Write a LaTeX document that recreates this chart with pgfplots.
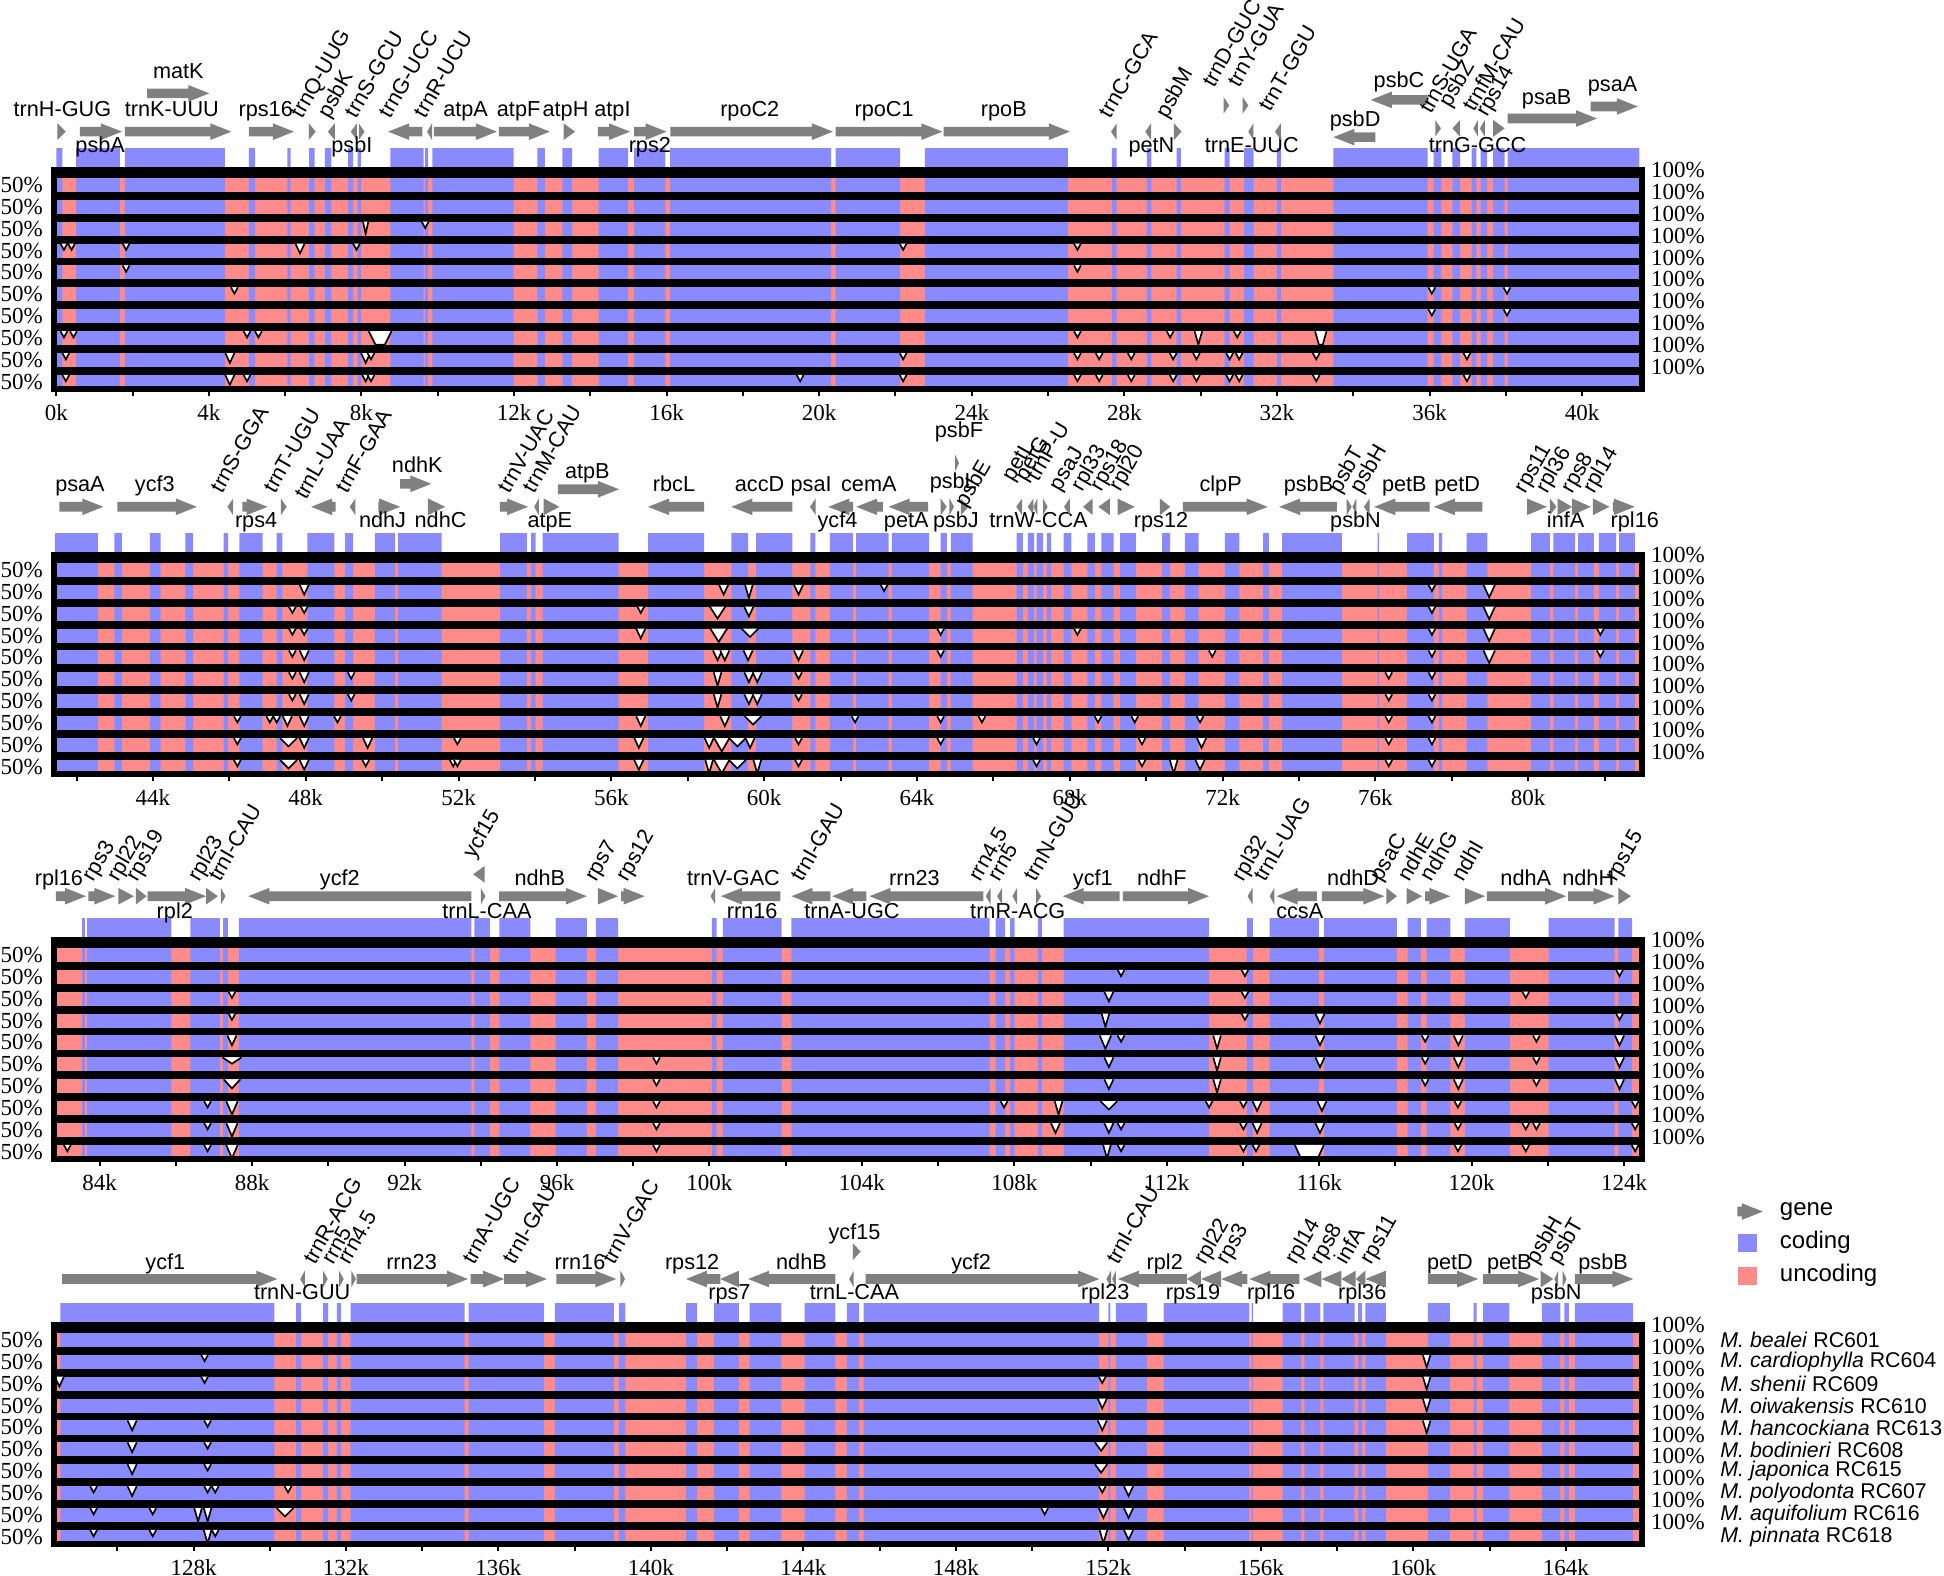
\documentclass[border=0pt]{standalone}
\usepackage{fontspec}
\setmainfont{Liberation Serif}
\setsansfont{Liberation Sans}
\usepackage{pgfplots}
\usepackage{pgfplotstable}
\pgfplotsset{compat=1.18}
\definecolor{coding}{RGB}{138,138,255}
\definecolor{uncoding}{RGB}{255,138,138}
\definecolor{genegray}{RGB}{128,128,128}

\pgfplotstableread{
x c
-0.06 0
0 1
0.16 0
0.52 1
1.67 0
1.80 1
4.42 0
5.05 1
5.21 0
6.06 1
6.14 0
6.63 1
6.77 0
7.04 1
7.21 0
7.65 1
7.78 0
7.90 1
7.99 0
8.76 1
9.63 0
9.67 1
9.75 0
9.86 1
11.99 0
12.61 1
12.81 0
13.27 1
13.52 0
14.22 1
14.99 0
15.15 1
15.97 0
16.09 1
20.31 0
20.43 1
22.12 0
22.77 1
26.52 0
27.67 1
27.80 0
28.59 1
28.71 0
29.37 1
29.48 0
30.63 1
30.76 0
31.14 1
31.39 0
32.00 1
32.11 0
33.48 1
35.95 0
36.11 1
36.31 0
36.60 1
36.80 0
37.10 1
37.23 0
37.34 1
37.51 0
37.67 1
37.97 0
38.05 1
41.50 0
41.57 0
}\tabA

\pgfplotstableread{
x c
41.41 0
41.43 1
42.56 0
42.99 1
43.19 0
43.92 1
44.20 0
44.85 1
45.05 0
45.85 1
45.97 0
46.26 1
46.87 0
47.24 1
47.39 0
48.04 1
48.75 0
49.03 1
49.24 0
49.81 1
50.34 0
50.42 1
51.56 0
53.09 1
53.79 0
53.90 1
54.02 0
54.20 1
56.19 0
56.96 1
58.43 0
59.14 1
59.58 0
59.79 1
60.74 0
61.21 1
61.34 0
61.72 1
62.33 0
62.41 1
63.26 0
63.34 1
64.32 0
64.62 1
64.78 0
64.89 1
65.46 0
66.61 1
66.77 0
66.90 1
67.07 0
67.13 1
67.30 0
67.40 1
67.51 0
67.84 1
68.04 0
68.46 1
68.66 0
68.83 1
69.15 0
69.32 1
69.73 0
70.42 1
70.63 0
71.01 1
71.37 0
72.06 1
72.44 0
73.06 1
73.21 0
73.56 1
75.12 0
76.06 1
76.10 0
76.83 1
77.53 0
77.66 1
77.75 0
78.39 1
78.93 0
80.08 1
80.57 0
80.66 1
81.23 0
81.31 1
81.72 0
81.85 1
82.30 0
82.38 1
82.79 0
82.98 0
}\tabB

\pgfplotstableread{
x c
82.80 0
83.54 1
83.61 0
83.67 1
85.88 0
86.38 1
87.15 0
87.24 1
87.36 0
87.65 1
93.75 0
93.83 1
94.24 0
94.49 1
95.30 0
95.96 1
96.78 0
97.02 1
97.60 0
100.06 1
100.19 0
100.35 1
101.89 0
102.15 1
107.35 0
107.51 1
107.76 0
107.89 1
108.01 0
108.62 1
108.72 0
109.29 1
113.11 0
114.10 1
114.26 0
114.70 1
115.99 0
116.12 1
118.04 0
118.32 1
118.67 0
118.82 1
119.44 0
119.82 1
121.00 0
122.02 1
123.75 0
123.85 1
124.21 0
124.47 0
}\tabC

\pgfplotstableread{
x c
124.34 0
124.51 1
130.12 0
130.69 1
130.82 0
131.40 1
131.53 0
131.76 1
131.87 0
132.12 1
135.11 0
135.22 1
137.19 0
137.48 1
139.03 0
139.16 1
139.33 0
140.92 1
141.21 0
141.65 1
142.31 0
142.59 1
143.42 0
144.03 1
144.84 0
145.14 1
145.46 0
145.58 1
151.76 0
152.00 1
152.05 0
152.20 1
153.02 0
153.45 1
155.70 0
155.76 1
155.80 0
156.57 1
157.06 0
157.14 1
157.56 0
157.64 1
158.46 0
158.55 1
158.66 0
158.74 1
159.28 0
160.38 1
160.96 0
161.58 1
161.66 0
161.83 1
162.52 0
163.37 1
163.86 0
163.96 1
164.08 0
164.24 1
165.77 0
166.00 0
}\tabD

\tikzset{
 glab/.style={font=\sffamily\fontsize{6.5}{7}\selectfont, inner sep=0pt},
 rlab/.style={font=\fontsize{6.9}{7}\selectfont, inner sep=0pt, anchor=west},
 genefill/.style={fill=genegray, draw=none},
 dipst/.style={fill=white, draw=black, line width=0.5pt},
}
\pgfplotsset{
 vista/.style={
  scale only axis, width=476.4pt, height=65.7pt,
  anchor=south west,
  ymin=0, ymax=10, clip=false, axis on top,
  axis line style={line width=1.8pt},
  ytick={0.32,1.32,2.32,3.32,4.32,5.32,6.32,7.32,8.32,9.32},
  yticklabels={50\%,50\%,50\%,50\%,50\%,50\%,50\%,50\%,50\%,50\%},
  ytick pos=left,
  ytick style={draw=none},
  yticklabel style={font=\fontsize{6.9}{7}\selectfont, inner sep=1pt},
  xtick pos=left, tick align=outside,
  major tick length=2.2pt, minor tick length=2.2pt,
  xtick style={line width=0.6pt, black},
  /pgf/number format/assume math mode=true,
  xticklabel={\pgfmathprintnumber{\tick}k},
  xticklabel style={font=\fontsize{6.9}{7}\selectfont, yshift=1pt},
 },
}

% genes
\newcommand{\gR}[3]{%
 \pgfmathsetmacro\gHL{min(0.55,#2-#1)}%
 \pgfmathsetmacro\gM{#2-\gHL}%
 \pgfmathsetmacro\yS{#3-0.22}\pgfmathsetmacro\yT{#3+0.22}%
 \pgfmathsetmacro\yH{#3-0.38}\pgfmathsetmacro\yK{#3+0.38}%
 \addplot[genefill] coordinates {(#1,\yS) (\gM,\yS) (\gM,\yH) (#2,#3) (\gM,\yK) (\gM,\yT) (#1,\yT)};}
\newcommand{\gL}[3]{%
 \pgfmathsetmacro\gHL{min(0.55,#2-#1)}%
 \pgfmathsetmacro\gM{#1+\gHL}%
 \pgfmathsetmacro\yS{#3-0.22}\pgfmathsetmacro\yT{#3+0.22}%
 \pgfmathsetmacro\yH{#3-0.38}\pgfmathsetmacro\yK{#3+0.38}%
 \addplot[genefill] coordinates {(#2,\yS) (\gM,\yS) (\gM,\yH) (#1,#3) (\gM,\yK) (\gM,\yT) (#2,\yT)};}
% labels
\newcommand{\gla}[2]{\node[glab,anchor=base] at (axis cs:#1,\La) {#2};}
\newcommand{\glb}[2]{\node[glab,anchor=base] at (axis cs:#1,\Lb) {#2};}
\newcommand{\glr}[2]{\node[glab,anchor=base west,rotate=60] at (axis cs:#1,\Lr) {#2};}
\newcommand{\glxy}[3]{\node[glab,anchor=base] at (axis cs:#1,#2) {#3};}
\newcommand{\glrxy}[3]{\node[glab,anchor=base west,rotate=60] at (axis cs:#1,#2) {#3};}
% dips
\newcommand{\dip}[4]{%
 \pgfmathsetmacro\dipT{10.64-#2}%
 \pgfmathsetmacro\dipB{10.64-#2-0.64*#4}%
 \pgfmathsetmacro\dipL{#1-#3}\pgfmathsetmacro\dipR{#1+#3}%
 \addplot[dipst] coordinates {(\dipL,\dipT) (#1,\dipB) (\dipR,\dipT)};}
\newcommand{\dtz}[4]{%
 \pgfmathsetmacro\dipT{10.64-#2}\pgfmathsetmacro\dipB{10.02-#2}%
 \pgfmathsetmacro\dipL{#1-#3}\pgfmathsetmacro\dipR{#1+#3}%
 \pgfmathsetmacro\dipl{#1-#4}\pgfmathsetmacro\dipr{#1+#4}%
 \addplot[dipst] coordinates {(\dipL,\dipT) (\dipl,\dipB) (\dipr,\dipB) (\dipR,\dipT)};}
\newcommand{\dS}[2]{\dip{#1}{#2}{0.09}{0.45}}
\newcommand{\dM}[2]{\dip{#1}{#2}{0.12}{0.7}}
\newcommand{\dD}[2]{\dip{#1}{#2}{0.1}{0.95}}
\newcommand{\dW}[2]{\dip{#1}{#2}{0.22}{0.6}}
% background
\newcommand{\tracks}[1]{%
 \addplot[fill=uncoding,draw=none] coordinates {(\xmn,0) (\xmx,0) (\xmx,10) (\xmn,10)};
 \addplot[const plot, fill=coding, draw=none] table[x=x, y expr=\thisrow{c}*11] {#1} \closedcycle;
 \pgfplotsinvokeforeach{0,...,9}{\addplot[fill=black,draw=none] coordinates {(\xmn,##1.64) (\xmx,##1.64) (\xmx,##1.9999) (\xmn,##1.9999)};}
}
\newcommand{\rightlabels}{\pgfplotsinvokeforeach{1,...,10}{\node[rlab] at (axis cs:\xmx,##1) {\hspace{2.5pt}100\%};}}

\begin{document}
\begin{tikzpicture}
%================ PANEL 1
\def\xmn{-0.06}\def\xmx{41.57}
\def\Ay{11.75}\def\La{12.45}\def\Lb{10.8}\def\Lr{12.3}
\begin{axis}[vista, at={(16.2pt,-116.7pt)}, xmin=-0.06, xmax=41.57,
  xtick={0,4,...,40}, minor xtick={2,6,...,38}]
\tracks{\tabA}
% dips
\dip{8.11}{3}{0.07}{0.85} \dS{9.67}{3}
\dS{0.2}{4} \dS{0.4}{4} \dS{1.83}{4} \dM{6.39}{4} \dS{7.87}{4} \dS{22.2}{4}
\dS{1.83}{5}
\dS{4.67}{6}
\dS{0.2}{8} \dS{0.45}{8} \dS{5.0}{8} \dS{5.3}{8} \dtz{8.49}{8}{0.3}{0.12}
\dS{0.25}{9} \dM{4.55}{9} \dM{8.11}{9} \dS{8.25}{9} \dS{22.2}{9}
\dS{0.25}{10} \dM{4.55}{10} \dS{5.0}{10} \dS{8.11}{10} \dS{8.25}{10} \dS{19.5}{10} \dS{22.2}{10}
\dS{26.77}{4} \dS{26.77}{5}
\dS{36.06}{6} \dS{38.03}{6} \dS{36.06}{7} \dS{38.03}{7}
\dS{26.77}{8} \dS{29.2}{8} \dD{29.94}{8} \dS{30.96}{8} \dtz{33.15}{8}{0.15}{0.05}
\dS{26.77}{9} \dS{27.34}{9} \dS{28.18}{9} \dS{29.28}{9} \dS{29.89}{9} \dS{30.76}{9} \dS{31.01}{9} \dS{33.03}{9} \dS{36.98}{9}
\dS{26.77}{10} \dS{27.34}{10} \dS{28.18}{10} \dS{29.28}{10} \dS{29.89}{10} \dS{30.76}{10} \dS{31.01}{10} \dS{33.03}{10} \dS{36.98}{10}
% genes
\gR{0.03}{0.25}{\Ay} \gla{0.16}{trnH-GUG}
\gR{0.62}{1.72}{\Ay} \glb{1.15}{psbA}
\gR{1.8}{4.59}{\Ay} \gla{3.03}{trnK-UUU}
\gR{2.38}{4.01}{13.5} \glxy{3.2}{14.2}{matK}
\gR{5.05}{6.23}{\Ay} \gla{5.49}{rps16}
\gR{6.62}{6.8}{\Ay} \glr{6.45}{trnQ-UUG}
\gL{7.12}{7.3}{\Ay} \glr{7.15}{psbK}
\gL{7.72}{7.88}{\Ay} \glb{7.75}{psbI}
\gR{7.93}{8.08}{\Ay} \glr{7.86}{trnS-GCU}
\gL{8.7}{9.6}{\Ay} \glr{8.76}{trnG-UCC}
\gL{9.72}{9.85}{\Ay} \glr{9.67}{trnR-UCU}
\gR{9.9}{11.55}{\Ay} \gla{10.73}{atpA}
\gR{11.6}{12.94}{\Ay} \gla{12.12}{atpF}
\gR{13.3}{13.6}{\Ay} \gla{13.35}{atpH}
\gR{14.2}{15.04}{\Ay} \gla{14.58}{atpI}
\gR{15.15}{16.0}{\Ay} \glb{15.56}{rps2}
\gR{16.1}{20.36}{\Ay} \gla{18.18}{rpoC2}
\gR{20.43}{23.23}{\Ay} \gla{21.7}{rpoC1}
\gR{23.26}{26.57}{\Ay} \gla{24.84}{rpoB}
\gL{27.65}{27.8}{\Ay} \glr{27.64}{trnC-GCA}
\gL{28.55}{28.7}{\Ay} \glb{28.71}{petN}
\gR{29.3}{29.5}{\Ay} \glr{29.12}{psbM}
\gR{30.6}{30.75}{12.95} \glrxy{30.35}{13.7}{trnD-GUC}
\gR{31.1}{31.25}{12.95} \glrxy{31.0}{13.7}{trnY-GUA}
\gL{31.25}{31.38}{\Ay} \glb{31.34}{trnE-UUC}
\gL{31.95}{32.1}{\Ay} \glrxy{31.83}{12.6}{trnT-GGU}
\gL{33.48}{34.58}{11.5} \glxy{34.05}{12.0}{psbD}
\gL{34.46}{35.95}{13.2} \glxy{35.2}{13.75}{psbC}
\gR{36.15}{36.3}{11.9} \glrxy{36.03}{12.5}{trnS-UGA}
\gL{36.6}{36.8}{11.9} \glrxy{36.55}{12.8}{psbZ}
\gL{37.15}{37.27}{11.9} \glb{37.26}{trnG-GCC}
\gL{37.32}{37.45}{11.9} \glrxy{37.18}{12.6}{trnfM-CAU}
\gR{37.67}{37.97}{11.9} \glrxy{37.51}{12.35}{rps14}
\gR{38.05}{40.39}{12.35} \glxy{39.07}{13.0}{psaB}
\gR{40.22}{41.46}{12.9} \glxy{40.8}{13.6}{psaA}
\rightlabels
\end{axis}
%================ PANEL 2
\def\xmn{41.41}\def\xmx{82.98}
\def\Ay{12.2}\def\La{12.9}\def\Lb{11.25}\def\Lr{12.75}
\begin{axis}[vista, at={(16.2pt,-232.2pt)}, xmin=41.41, xmax=82.98,
  xtick={44,48,...,80}, minor xtick={42,46,...,82}]
\tracks{\tabB}
\dM{47.96}{2} \dM{58.94}{2} \dD{59.6}{2} \dM{60.9}{2} \dS{63.14}{2}
\dS{47.65}{3} \dS{47.96}{3} \dS{56.77}{3} \dip{58.78}{3}{0.2}{0.85} \dM{59.6}{3}
\dS{47.65}{4} \dS{47.96}{4} \dM{56.77}{4} \dip{58.81}{4}{0.22}{0.95} \dW{59.63}{4} \dS{64.62}{4}
\dS{47.65}{5} \dM{47.96}{5} \dM{58.78}{5} \dM{58.97}{5} \dM{59.58}{5} \dM{60.9}{5} \dS{64.62}{5}
\dS{47.65}{6} \dM{47.96}{6} \dS{49.19}{6} \dD{58.78}{6} \dM{59.6}{6} \dM{59.82}{6} \dS{60.9}{6}
\dS{47.65}{7} \dM{47.96}{7} \dS{49.19}{7} \dD{58.78}{7} \dM{59.6}{7} \dM{59.82}{7} \dS{60.9}{7}
\dS{46.21}{8} \dS{47.06}{8} \dS{47.24}{8} \dM{47.52}{8} \dM{47.96}{8} \dS{48.83}{8} \dM{56.77}{8} \dM{58.97}{8} \dW{59.71}{8} \dS{62.38}{8} \dS{64.62}{8}
\dS{46.21}{9} \dW{47.55}{9} \dM{47.96}{9} \dM{49.62}{9} \dS{51.97}{9} \dM{56.72}{9} \dM{58.56}{9} \dip{58.89}{9}{0.2}{0.95} \dW{59.3}{9} \dM{59.63}{9} \dS{60.9}{9} \dS{64.62}{9}
\dS{46.21}{10} \dW{47.55}{10} \dM{47.96}{10} \dS{49.57}{10} \dS{51.86}{10} \dS{51.97}{10} \dM{56.72}{10} \dD{58.56}{10} \dip{58.89}{10}{0.2}{0.95} \dW{59.3}{10} \dD{59.82}{10} \dS{60.9}{10}
\dS{77.48}{2} \dip{78.98}{2}{0.15}{0.9}
\dS{77.48}{3} \dip{78.98}{3}{0.15}{0.9}
\dS{77.48}{4} \dip{78.98}{4}{0.15}{0.9} \dS{81.89}{4} \dS{68.2}{4}
\dS{77.48}{5} \dip{78.98}{5}{0.15}{0.9} \dS{81.89}{5} \dS{71.73}{5}
\dS{76.35}{6} \dS{77.48}{6} \dS{76.35}{7} \dS{77.48}{7}
\dS{76.35}{8} \dS{77.48}{8} \dS{76.35}{9} \dS{77.48}{9} \dS{76.35}{10} \dS{77.48}{10}
\dS{65.7}{8} \dS{68.74}{8} \dS{69.7}{8} \dS{71.41}{8}
\dS{67.13}{9} \dS{69.89}{9} \dM{71.45}{9}
\dS{67.13}{10} \dS{69.89}{10} \dD{70.72}{10} \dM{71.41}{10}
% genes
\gR{41.55}{42.7}{\Ay} \gla{42.09}{psaA}
\gR{43.07}{45.15}{\Ay} \gla{44.05}{ycf3}
\gL{45.95}{46.1}{\Ay} \glr{45.8}{trnS-GGA}
\gR{46.34}{47.0}{\Ay} \glb{46.7}{rps4}
\gR{47.35}{47.5}{\Ay} \glr{47.19}{trnT-UGU}
\gL{48.14}{48.78}{\Ay} \glrxy{48.0}{12.45}{trnL-UAA}
\gL{49.15}{49.3}{\Ay} \glr{49.08}{trnF-GAA}
\gR{49.9}{50.47}{\Ay} \glb{50.01}{ndhJ}
\gR{50.47}{51.29}{13.25} \glxy{50.92}{13.75}{ndhK}
\gR{51.2}{51.65}{\Ay} \glb{51.53}{ndhC}
\gR{53.08}{53.82}{\Ay} \glr{53.33}{trnV-UAC}
\gL{53.98}{54.1}{\Ay} \glr{53.98}{trnM-CAU}
\gR{54.23}{54.64}{\Ay} \glb{54.39}{atpE}
\gR{54.6}{56.2}{13.0} \glxy{55.37}{13.5}{atpB}
\gL{56.96}{58.43}{\Ay} \gla{57.64}{rbcL}
\gL{59.14}{60.74}{\Ay} \gla{59.88}{accD}
\gL{61.2}{61.35}{\Ay} \gla{61.23}{psaI}
\gL{61.68}{62.33}{\Ay} \glb{61.92}{ycf4}
\gL{62.41}{63.11}{\Ay} \gla{62.74}{cemA}
\gL{63.26}{64.29}{\Ay} \glb{63.72}{petA}
\gR{64.62}{64.78}{\Ay} \glb{65.02}{psbJ}
\gR{64.85}{64.97}{\Ay} \glxy{64.95}{13.05}{psbL}
\gR{65.0}{65.1}{14.2} \glxy{65.1}{15.35}{psbF}
\gR{65.15}{65.35}{\Ay} \glrxy{65.3}{12.1}{psbE}
\gL{66.6}{66.75}{\Ay} \glrxy{66.53}{13.3}{petL}
\gL{66.9}{67.05}{\Ay} \glrxy{66.86}{13.3}{petG}
\gL{67.05}{67.15}{\Ay} \glb{67.18}{trnW-CCA}
\gR{67.3}{67.42}{\Ay} \glrxy{67.18}{13.3}{trnP-U}
\gL{67.85}{68.0}{\Ay} \glrxy{67.76}{12.85}{psaJ}
\gL{68.35}{68.6}{\Ay} \glrxy{68.33}{12.85}{rpl33}
\gL{68.75}{69.05}{\Ay} \glrxy{68.83}{12.85}{rps18}
\gR{69.25}{69.7}{\Ay} \glrxy{69.32}{12.85}{rpl20}
\gR{70.36}{70.63}{\Ay} \glb{70.39}{rps12}
\gR{70.96}{73.18}{\Ay} \gla{71.95}{clpP}
\gL{73.48}{74.99}{\Ay} \gla{74.25}{psbB}
\gR{75.25}{75.38}{\Ay} \glr{75.07}{psbT}
\gL{75.4}{75.5}{\Ay} \glb{75.48}{psbN}
\gL{75.7}{75.85}{\Ay} \glr{75.64}{psbH}
\gL{75.97}{77.42}{\Ay} \gla{76.76}{petB}
\gL{77.53}{78.8}{\Ay} \gla{78.14}{petD}
\gR{79.97}{80.49}{\Ay} \glr{79.92}{rps11}
\gR{80.57}{80.74}{\Ay} \glr{80.49}{rpl36}
\gR{80.77}{81.15}{\Ay} \glb{80.98}{infA}
\gR{81.15}{81.64}{\Ay} \glr{81.15}{rps8}
\gR{81.69}{82.13}{\Ay} \glr{81.72}{rpl14}
\gR{82.22}{82.79}{\Ay} \glb{82.79}{rpl16}
\rightlabels
\end{axis}
%================ PANEL 3
\def\xmn{82.8}\def\xmx{124.47}
\def\Ay{12.0}\def\La{12.5}\def\Lb{11.0}\def\Lr{12.6}
\begin{axis}[vista, at={(16.2pt,-347.7pt)}, xmin=82.8, xmax=124.47,
  xtick={84,88,...,124}, minor xtick={86,90,...,122}]
\tracks{\tabC}
\dS{87.47}{3} \dS{87.47}{4} \dM{87.47}{5} \dip{87.47}{6}{0.25}{0.45} \dip{87.47}{7}{0.22}{0.65}
\dip{87.47}{8}{0.15}{0.95} \dip{87.47}{9}{0.15}{0.95} \dip{87.47}{10}{0.15}{0.95}
\dS{86.83}{8} \dS{86.83}{9} \dS{86.83}{10} \dS{83.15}{10}
\dS{98.61}{6} \dS{98.61}{7} \dS{98.61}{8} \dS{98.61}{9} \dS{98.61}{10}
\dS{110.8}{2} \dS{114.05}{2} \dS{123.88}{2}
\dM{110.48}{3} \dS{114.05}{3} \dS{121.42}{3}
\dD{110.39}{4} \dS{114.05}{4} \dM{116.02}{4} \dS{123.88}{4}
\dip{110.39}{5}{0.15}{0.95} \dS{110.8}{5} \dD{113.32}{5} \dM{116.02}{5} \dS{118.78}{5} \dM{119.65}{5} \dS{121.7}{5} \dM{123.88}{5}
\dM{110.48}{6} \dD{113.32}{6} \dM{116.02}{6} \dS{118.78}{6} \dM{119.65}{6} \dS{121.7}{6} \dM{123.88}{6}
\dM{110.48}{7} \dD{113.32}{7} \dS{118.78}{7} \dM{119.65}{7} \dS{121.7}{7} \dM{123.88}{7}
\dS{107.73}{8} \dD{109.16}{8} \dW{110.48}{8} \dS{113.11}{8} \dS{114.01}{8} \dM{114.37}{8} \dM{116.07}{8} \dS{119.64}{8} \dS{124.29}{8}
\dM{109.08}{9} \dM{110.48}{9} \dS{110.8}{9} \dS{114.01}{9} \dM{114.37}{9} \dM{116.02}{9} \dS{119.64}{9} \dS{121.42}{9} \dS{121.7}{9} \dS{124.29}{9}
\dD{110.43}{10} \dS{110.8}{10} \dS{114.01}{10} \dS{114.34}{10} \dtz{115.74}{10}{0.38}{0.22} \dS{119.64}{10} \dS{121.42}{10} \dS{124.29}{10}
% genes
\gR{82.85}{83.64}{\Ay} \gla{82.93}{rpl16}
\gR{83.7}{84.41}{\Ay} \glr{83.84}{rps3}
\gR{84.49}{84.9}{\Ay} \glr{84.49}{rpl22}
\gR{84.95}{85.23}{\Ay} \glr{84.98}{rps19}
\gR{85.26}{86.79}{\Ay} \glb{85.97}{rpl2}
\gR{86.79}{87.1}{\Ay} \glr{86.62}{rpl23}
\gR{87.18}{87.3}{\Ay} \glr{87.15}{trnI-CAU}
\gL{87.9}{93.75}{\Ay} \gla{90.3}{ycf2}
\gL{93.8}{94.1}{13.0} \glrxy{93.83}{13.65}{ycf15}
\gR{94.0}{94.12}{\Ay} \glb{94.16}{trnL-CAA}
\gR{94.48}{96.78}{\Ay} \gla{95.55}{ndhB}
\gR{97.07}{97.6}{\Ay} \glr{97.02}{rps7}
\gR{97.68}{98.3}{\Ay} \glr{97.84}{rps12}
\gL{100.03}{100.15}{\Ay} \gla{100.63}{trnV-GAC}
\gL{100.3}{101.86}{\Ay} \glb{101.12}{rrn16}
\gL{102.15}{103.17}{\Ay} \glr{102.43}{trnI-GAU}
\gL{103.22}{104.12}{\Ay} \glb{103.74}{trnA-UGC}
\gL{104.2}{107.19}{\Ay} \gla{105.38}{rrn23}
\gL{107.25}{107.38}{\Ay} \glr{107.1}{rrn4.5}
\gL{107.55}{107.68}{\Ay} \glr{107.6}{rrn5}
\gL{107.95}{108.07}{\Ay} \glb{108.09}{trnR-ACG}
\gR{108.57}{108.7}{\Ay} \glr{108.55}{trnN-GUU}
\gL{109.27}{110.76}{\Ay} \gla{110.06}{ycf1}
\gR{110.85}{113.11}{\Ay} \gla{111.87}{ndhF}
\gL{114.12}{114.25}{\Ay} \glr{114.01}{rpl32}
\gL{114.7}{114.82}{\Ay} \glr{114.59}{trnL-UAG}
\gL{114.88}{115.94}{\Ay} \glb{115.49}{ccsA}
\gR{116.07}{117.71}{\Ay} \gla{116.89}{ndhD}
\gR{117.76}{118.04}{\Ay} \glr{117.63}{psaC}
\gR{118.29}{118.7}{\Ay} \glr{118.37}{ndhE}
\gR{118.78}{119.44}{\Ay} \glr{118.95}{ndhG}
\gR{119.82}{120.35}{\Ay} \glr{119.77}{ndhI}
\gR{120.4}{122.48}{\Ay} \gla{121.42}{ndhA}
\gR{122.53}{123.75}{\Ay} \gla{123.06}{ndhH}
\gR{123.85}{124.18}{\Ay} \glr{123.8}{rps15}
\rightlabels
\end{axis}
%================ PANEL 4
\def\xmn{124.34}\def\xmx{166.0}
\def\Ay{12.1}\def\La{12.55}\def\Lb{11.15}\def\Lr{12.7}
\begin{axis}[vista, at={(16.2pt,-463.2pt)}, xmin=124.34, xmax=166.0,
  xtick={128,132,...,164}, minor xtick={126,130,...,162}]
\tracks{\tabD}
\dS{128.29}{2}
\dM{124.48}{3} \dS{128.29}{3}
\dM{126.39}{5} \dS{128.37}{5} \dM{126.39}{6} \dS{128.37}{6} \dM{126.39}{7} \dS{128.37}{7}
\dS{125.38}{8} \dM{126.39}{8} \dS{128.37}{8} \dS{128.57}{8} \dS{130.48}{8}
\dS{125.38}{9} \dS{126.93}{9} \dD{128.12}{9} \dD{128.37}{9} \dW{130.4}{9}
\dS{125.38}{10} \dS{126.93}{10} \dD{128.37}{10} \dS{128.57}{10}
\dip{160.35}{2}{0.1}{0.9} \dip{160.35}{3}{0.1}{0.9} \dip{160.35}{4}{0.1}{0.9} \dip{160.35}{5}{0.1}{0.9}
\dS{151.84}{3} \dM{151.84}{4} \dM{151.84}{5}
\dip{151.81}{6}{0.16}{0.6} \dip{151.81}{7}{0.16}{0.6}
\dS{151.84}{8} \dM{152.53}{8}
\dS{150.33}{9} \dM{151.87}{9} \dM{152.53}{9}
\dD{151.87}{10} \dM{152.53}{10}
% genes
\gR{124.55}{130.2}{\Ay} \gla{127.26}{ycf1}
\gL{130.8}{130.92}{\Ay} \glb{130.85}{trnN-GUU}
\gR{131.4}{131.52}{\Ay} \glr{131.18}{trnR-ACG}
\gR{131.82}{131.94}{\Ay} \glr{131.67}{rrn5}
\gR{132.14}{132.26}{\Ay} \glr{132.08}{rrn4.5}
\gR{132.28}{135.2}{\Ay} \gla{133.72}{rrn23}
\gR{135.27}{136.15}{\Ay} \glr{135.35}{trnA-UGC}
\gR{136.15}{137.27}{\Ay} \glr{136.42}{trnI-GAU}
\gR{137.52}{139.09}{\Ay} \gla{138.14}{rrn16}
\gR{139.2}{139.32}{\Ay} \glr{139.03}{trnV-GAC}
\gL{140.92}{141.82}{\Ay} \gla{141.08}{rps12}
\gL{141.82}{142.31}{\Ay} \glb{142.06}{rps7}
\gL{142.55}{144.84}{\Ay} \gla{143.95}{ndhB}
\gR{145.3}{145.5}{13.35} \glxy{145.34}{13.9}{ycf15}
\gL{145.2}{145.32}{\Ay} \glb{145.34}{trnL-CAA}
\gR{145.63}{151.76}{\Ay} \gla{148.4}{ycf2}
\gL{151.95}{152.07}{\Ay} \glb{151.92}{rpl23}
\gL{152.1}{152.2}{\Ay} \glr{152.25}{trnI-CAU}
\gL{152.25}{154.06}{\Ay} \gla{153.48}{rpl2}
\gL{154.06}{154.43}{\Ay} \glb{154.22}{rps19}
\gL{154.43}{154.96}{\Ay} \glr{154.55}{rpl22}
\gL{154.96}{155.65}{\Ay} \glr{155.12}{rps3}
\gL{155.7}{157.01}{\Ay} \glb{156.27}{rpl16}
\gL{157.1}{157.59}{\Ay} \glr{156.93}{rpl14}
\gL{157.59}{158.11}{\Ay} \glr{157.59}{rps8}
\gL{158.11}{158.49}{\Ay} \glr{158.25}{infA}
\gL{158.49}{158.74}{\Ay} \glb{158.66}{rpl36}
\gL{158.74}{159.28}{\Ay} \glr{158.9}{rps11}
\gR{160.38}{161.7}{\Ay} \gla{160.96}{petD}
\gR{161.83}{163.3}{\Ay} \gla{162.52}{petB}
\gR{163.34}{163.67}{\Ay} \glr{163.26}{psbH}
\gL{163.7}{163.8}{\Ay} \glb{163.75}{psbN}
\gR{163.92}{164.02}{\Ay} \glr{163.83}{psbT}
\gR{164.24}{165.77}{\Ay} \gla{164.98}{psbB}
\rightlabels
% legend
\gR{168.5}{169.17}{15.18}
\addplot[fill=coding, draw=none] coordinates {(168.51,13.35) (169.01,13.35) (169.01,14.17) (168.51,14.17)};
\addplot[fill=uncoding, draw=none] coordinates {(168.51,11.83) (169.01,11.83) (169.01,12.66) (168.51,12.66)};
\node[font=\sffamily\fontsize{7.2}{8}\selectfont, anchor=west, inner sep=0pt] at (axis cs:169.6,15.18) {gene};
\node[font=\sffamily\fontsize{7.2}{8}\selectfont, anchor=west, inner sep=0pt] at (axis cs:169.6,13.76) {coding};
\node[font=\sffamily\fontsize{7.2}{8}\selectfont, anchor=west, inner sep=0pt] at (axis cs:169.6,12.25) {uncoding};
% species
\begin{scope}[every node/.style={font=\sffamily\fontsize{6.4}{7}\selectfont, anchor=west, inner sep=0pt}]
\node at (axis cs:168.04,9.32) {\textit{M. bealei} RC601};
\node at (axis cs:168.04,8.32) {\textit{M. cardiophylla} RC604};
\node at (axis cs:168.04,7.32) {\textit{M. shenii} RC609};
\node at (axis cs:168.04,6.32) {\textit{M. oiwakensis} RC610};
\node at (axis cs:168.04,5.32) {\textit{M. hancockiana} RC613};
\node at (axis cs:168.04,4.32) {\textit{M. bodinieri} RC608};
\node at (axis cs:168.04,3.32) {\textit{M. japonica} RC615};
\node at (axis cs:168.04,2.32) {\textit{M. polyodonta} RC607};
\node at (axis cs:168.04,1.32) {\textit{M. aquifolium} RC616};
\node at (axis cs:168.04,0.32) {\textit{M. pinnata} RC618};
\end{scope}
\end{axis}
\pgfresetboundingbox
\useasboundingbox (0pt,0pt) rectangle (583.2pt,-472.8pt);
\end{tikzpicture}
\end{document}
